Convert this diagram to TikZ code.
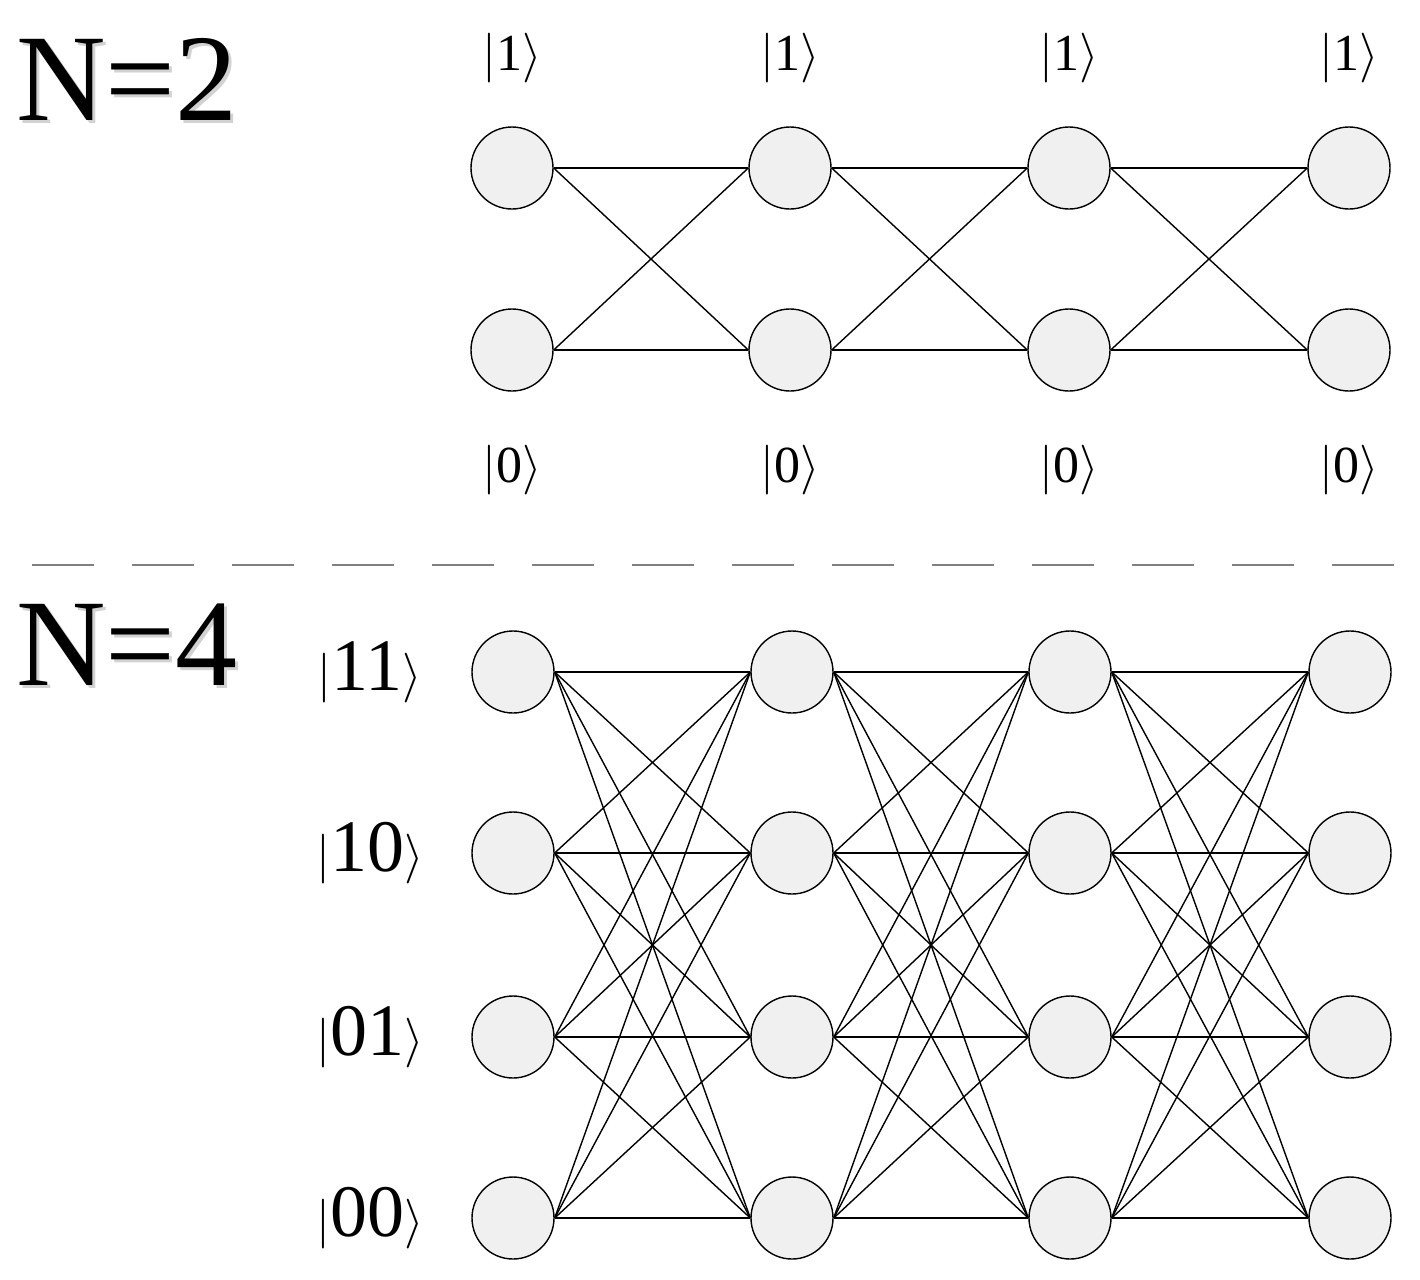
\documentclass[tikz,border=0pt]{standalone}
\usepackage{fontspec}
\setmainfont{Liberation Serif}
\newcommand{\myket}[1]{$\bigl|\mbox{#1}\bigr\rangle$}
\begin{document}
\begin{tikzpicture}[x=0.5pt,y=-0.5pt,
  nd/.style={circle,draw,fill=gray!12,minimum size=41pt,inner sep=0pt,line width=0.7pt},
  ln/.style={line width=0.7pt},
  ks/.style={font=\fontsize{26}{26}\selectfont},
  kb/.style={font=\fontsize{37}{37}\selectfont},
  big/.style={font=\fontsize{62}{62}\selectfont}]
\useasboundingbox (0,0) rectangle (1420,1280);
\foreach \x [count=\i] in {512,790,1069,1349}{
  \node[nd] (a\i1) at (\x,168) {};
  \node[nd] (a\i0) at (\x,350) {};
  \node[ks] (t\i1) at (\x,58) {\myket{1}};
  \node[ks] (t\i0) at (\x,470) {\myket{0}};
}
\foreach \i [evaluate=\i as \j using int(\i+1)] in {1,2,3}{
  \foreach \p in {0,1}{\foreach \q in {0,1}{
    \draw[ln] (a\i\p.east) -- (a\j\q.west);}}}
\foreach \x [count=\i] in {513,792,1070,1350}{
  \foreach \y [count=\k] in {672,853,1037,1218}{
    \node[nd] (b\i\k) at (\x,\y) {};}}
\foreach \i [evaluate=\i as \j using int(\i+1)] in {1,2,3}{
  \foreach \p in {1,...,4}{\foreach \q in {1,...,4}{
    \draw[ln] (b\i\p.east) -- (b\j\q.west);}}}
\node[kb] (l1) at (370,672) {\myket{11}};
\node[kb] (l2) at (370,853) {\myket{10}};
\node[kb] (l3) at (370,1037) {\myket{01}};
\node[kb] (l4) at (370,1218) {\myket{00}};
\draw[gray,line width=1.2pt,dash pattern=on 31pt off 19pt] (32,565) coordinate (d1) -- (1395,565) coordinate (d2);
\node[big,text=gray!35] (s2) at (130,82) {N=2};
\node[big] (n2) at (127,79) {N=2};
\node[big,text=gray!35] (s4) at (130,648) {N=4};
\node[big] (n4) at (127,645) {N=4};
\end{tikzpicture}
\end{document}
